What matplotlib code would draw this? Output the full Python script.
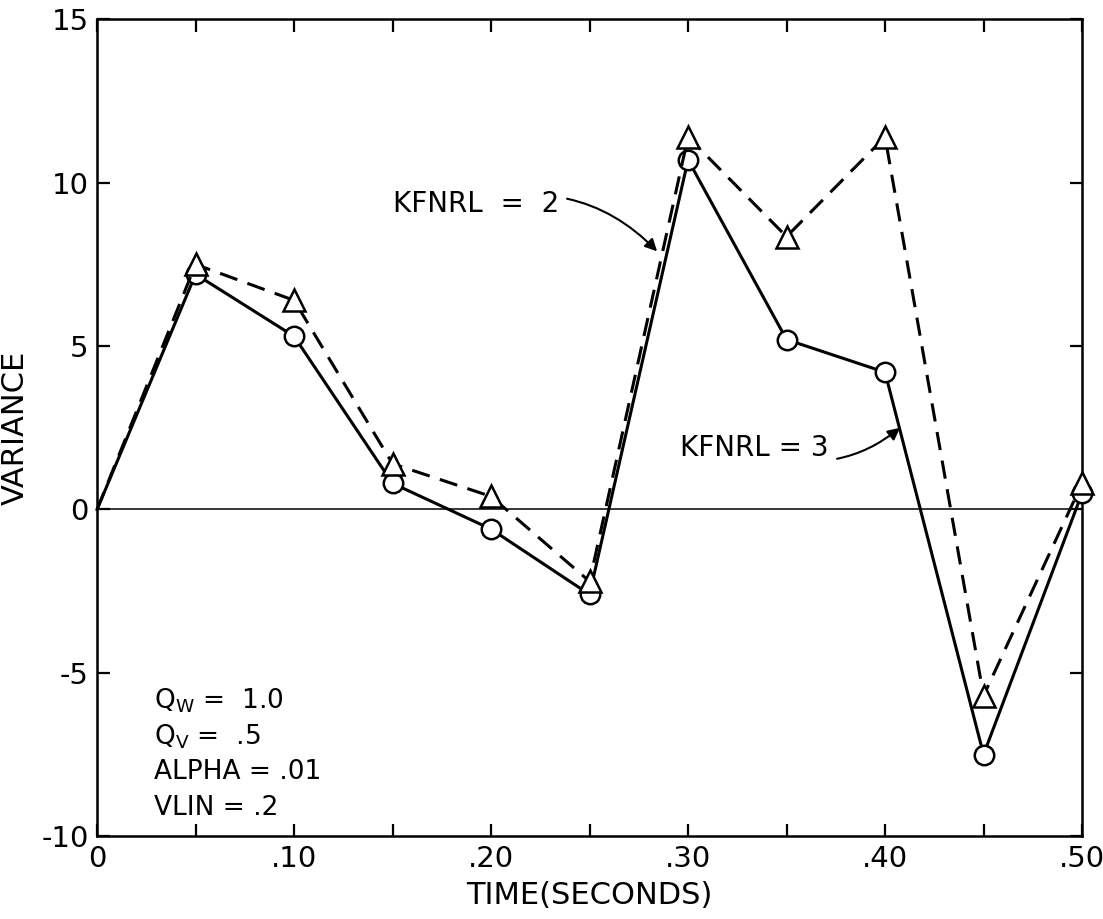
import matplotlib
matplotlib.use("Agg")
import matplotlib.pyplot as plt
from matplotlib.ticker import MultipleLocator

plt.rcParams['font.family'] = ['DejaVu Sans']
plt.rcParams['mathtext.default'] = 'regular'
plt.rcParams['axes.unicode_minus'] = False

# data
time = [0.0, 0.05, 0.10, 0.15, 0.20, 0.25, 0.30, 0.35, 0.40, 0.45, 0.50]
kfnrl3 = [0.0, 7.2, 5.3, 0.8, -0.6, -2.6, 10.7, 5.2, 4.2, -7.5, 0.5]
kfnrl2 = [0.0, 7.5, 6.4, 1.4, 0.4, -2.2, 11.4, 8.35, 11.4, -5.7, 0.8]
xtick_vals = [0.0, 0.10, 0.20, 0.30, 0.40, 0.50]
xtick_labels = ['0', '.10', '.20', '.30', '.40', '.50']
ytick_vals = [-10, -5, 0, 5, 10, 15]
params = [r'Q$_W$ =  1.0', r'Q$_V$ =  .5', 'ALPHA = .01', 'VLIN = .2']

fig = plt.figure(figsize=(11.03, 9.19), dpi=100)
ax = fig.add_axes([0.088, 0.090, 0.893, 0.889])

ax.axhline(0, color='black', lw=1.1, zorder=1)

# no marker at the origin in the original
marks = list(range(1, len(time)))
ax.plot(time, kfnrl3, '-', color='black', lw=2.2, marker='o', ms=14,
        markevery=marks, mfc='white', mec='black', mew=1.8, zorder=3, clip_on=False)
ax.plot(time, kfnrl2, '--', color='black', lw=2.2, dashes=(6, 3.5), marker='^', ms=16,
        markevery=marks, mfc='white', mec='black', mew=1.8, zorder=4, clip_on=False)

ax.set_xlim(0, 0.50)
ax.set_ylim(-10, 15)
ax.set_xticks(xtick_vals)
ax.set_xticklabels(xtick_labels)
ax.xaxis.set_minor_locator(MultipleLocator(0.05))
ax.set_yticks(ytick_vals)
ax.tick_params(which='both', direction='in', length=9, width=1.6,
               top=True, right=True, labelsize=21, pad=6)
for s in ax.spines.values():
    s.set_linewidth(1.8)

ax.set_xlabel('TIME(SECONDS)', fontsize=22, labelpad=6)
ax.set_ylabel('VARIANCE', fontsize=22)
ax.yaxis.set_label_coords(-0.068, 0.5)

ax.annotate('KFNRL  =  2', xy=(0.2843, 7.9), xytext=(0.150, 9.36),
            fontsize=20, va='center', ha='left',
            arrowprops=dict(arrowstyle='-|>', color='black', lw=1.5,
                            mutation_scale=18, connectionstyle='arc3,rad=-0.3',
                            shrinkA=4, shrinkB=0))
ax.annotate('KFNRL = 3', xy=(0.4076, 2.5), xytext=(0.296, 1.87),
            fontsize=20, va='center', ha='left',
            arrowprops=dict(arrowstyle='-|>', color='black', lw=1.5,
                            mutation_scale=18, connectionstyle='arc3,rad=0.3',
                            shrinkA=4, shrinkB=0))

for i, t in enumerate(params):
    ax.text(0.029, -5.84 - 1.1 * i, t, fontsize=19, va='center', ha='left')

fig.savefig('out.png', dpi=100)
